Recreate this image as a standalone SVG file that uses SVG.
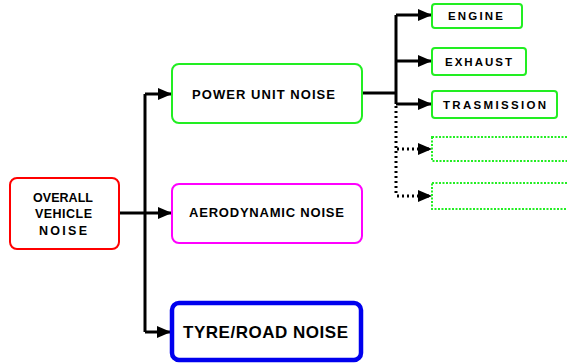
<svg xmlns="http://www.w3.org/2000/svg" width="567" height="363" viewBox="0 0 567 363">
<defs>
<marker id="ah" markerWidth="14" markerHeight="12" refX="13" refY="6" orient="auto" markerUnits="userSpaceOnUse">
<path d="M0,0 L14,6 L0,12 Z" fill="#000"/>
</marker>
<style>
text{font-family:"Comic Sans MS","Liberation Sans",Arial,sans-serif;font-weight:bold;fill:#000;text-anchor:middle}
.c{fill:none;stroke:#000;stroke-width:3}
.d{fill:none;stroke:#000;stroke-width:3;stroke-dasharray:2 3}
.g{fill:#fff;stroke:#22ee22;stroke-width:2}
.gd{fill:#fff;stroke:#22ee22;stroke-width:2;stroke-dasharray:2 1.5}
</style>
</defs>
<rect width="567" height="363" fill="#fff"/>
<g id="connectors">
<path class="c" d="M119,213 H145"/>
<path class="c" d="M145,94 V332"/>
<path class="c" d="M145,94 H171" marker-end="url(#ah)"/>
<path class="c" d="M145,213 H171" marker-end="url(#ah)"/>
<path class="c" d="M145,332 H170" marker-end="url(#ah)"/>
<path class="c" d="M362,93 H396"/>
<path class="c" d="M396,15 V104"/>
<path class="c" d="M396,15 H431" marker-end="url(#ah)"/>
<path class="c" d="M396,61 H431" marker-end="url(#ah)"/>
<path class="c" d="M396,104 H431" marker-end="url(#ah)"/>
<path class="d" d="M396,106 V196"/>
<path class="d" d="M397,149 H431" marker-end="url(#ah)"/>
<path class="d" d="M397,196 H431" marker-end="url(#ah)"/>
</g>
<g id="overall">
<rect x="10" y="178" width="109" height="71" rx="7" fill="#fff" stroke="#ff0000" stroke-width="2"/>
<text x="63" y="202" font-size="12.5" textLength="60" lengthAdjust="spacing">OVERALL</text>
<text x="63.5" y="218" font-size="12.5" textLength="57" lengthAdjust="spacing">VEHICLE</text>
<text x="63" y="235" font-size="12.5" textLength="48" lengthAdjust="spacing">NOISE</text>
</g>
<g id="power">
<rect x="172" y="64" width="190" height="59" rx="7" fill="#fff" stroke="#22ee22" stroke-width="2"/>
<text x="263.5" y="99" font-size="13" textLength="143" lengthAdjust="spacing">POWER UNIT NOISE</text>
</g>
<g id="aero">
<rect x="172" y="184" width="190" height="59" rx="7" fill="#fff" stroke="#ff00ff" stroke-width="2"/>
<text x="266.5" y="217" font-size="13" textLength="155" lengthAdjust="spacing">AERODYNAMIC NOISE</text>
</g>
<g id="tyre">
<rect x="172" y="303" width="189" height="57" rx="7" fill="#fff" stroke="#0000ee" stroke-width="4.5"/>
<text x="265.5" y="338" font-size="17" textLength="165" lengthAdjust="spacing">TYRE/ROAD NOISE</text>
</g>
<g id="engine">
<rect class="g" x="432" y="4" width="90" height="24" rx="3"/>
<text x="475.5" y="20" font-size="11.5" textLength="55" lengthAdjust="spacing">ENGINE</text>
</g>
<g id="exhaust">
<rect class="g" x="432" y="48" width="94" height="27" rx="3"/>
<text x="478.5" y="66" font-size="11.5" textLength="67" lengthAdjust="spacing">EXHAUST</text>
</g>
<g id="trasmission">
<rect class="g" x="432" y="91" width="125" height="27" rx="3"/>
<text x="494.5" y="109" font-size="11.5" textLength="103" lengthAdjust="spacing">TRASMISSION</text>
</g>
<g id="blank1">
<rect class="gd" x="432" y="137" width="145" height="24"/>
</g>
<g id="blank2">
<rect class="gd" x="432" y="183" width="145" height="26"/>
</g>
</svg>
